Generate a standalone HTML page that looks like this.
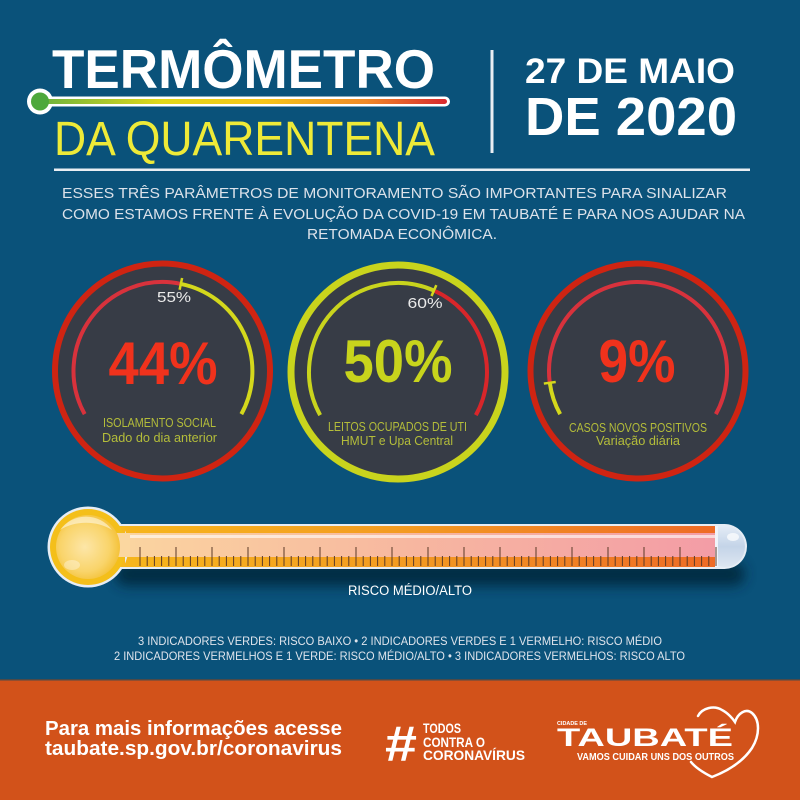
<!DOCTYPE html>
<html><head><meta charset="utf-8"><style>
html,body{margin:0;padding:0;width:800px;height:800px;overflow:hidden;background:#0a527a;}
svg{display:block;}
text{font-family:"Liberation Sans",sans-serif;}
</style></head><body>
<svg width="800" height="800" viewBox="0 0 800 800" xmlns="http://www.w3.org/2000/svg">
<defs>
<linearGradient id="bar" x1="0" x2="1" y1="0" y2="0">
<stop offset="0" stop-color="#6cb33e"/><stop offset="0.3" stop-color="#e2d81a"/><stop offset="0.55" stop-color="#f6c51a"/><stop offset="0.8" stop-color="#f08a28"/><stop offset="1" stop-color="#d8282e"/>
</linearGradient>
<linearGradient id="band" x1="100" x2="720" gradientUnits="userSpaceOnUse">
<stop offset="0" stop-color="#f7b81c"/><stop offset="0.5" stop-color="#f39a22"/><stop offset="1" stop-color="#ee6a26"/>
</linearGradient>
<linearGradient id="body" x1="100" x2="720" gradientUnits="userSpaceOnUse">
<stop offset="0" stop-color="#fbd7a0"/><stop offset="0.5" stop-color="#f7b7a0"/><stop offset="1" stop-color="#f39ca6"/>
</linearGradient>
<linearGradient id="cap" x1="0" x2="0" y1="0" y2="1">
<stop offset="0" stop-color="#e4ecf6"/><stop offset="0.5" stop-color="#c4d4e8"/><stop offset="1" stop-color="#dde6f1"/>
</linearGradient>
<radialGradient id="bulb" cx="0.45" cy="0.5" r="0.55">
<stop offset="0" stop-color="#fde6a8"/><stop offset="0.7" stop-color="#f9d46a"/><stop offset="1" stop-color="#f4c23a"/>
</radialGradient>
<filter id="blur" x="-10%" y="-100%" width="120%" height="300%"><feGaussianBlur stdDeviation="6"/></filter>
</defs>

<rect width="800" height="800" fill="#0a527a"/>

<!-- Title -->
<text x="52" y="88" font-size="55" font-weight="bold" fill="#ffffff" textLength="383" lengthAdjust="spacingAndGlyphs">TERMÔMETRO</text>
<rect x="30" y="96.5" width="420" height="10" rx="5" fill="#ffffff"/>
<circle cx="40" cy="101.5" r="13" fill="#ffffff"/>
<rect x="40" y="99" width="407" height="5" rx="2.5" fill="url(#bar)"/>
<circle cx="40" cy="101.5" r="9" fill="#4ea83c"/>
<text x="54" y="155" font-size="48" fill="#eeea38" textLength="381" lengthAdjust="spacingAndGlyphs">DA QUARENTENA</text>

<rect x="490.5" y="50" width="3" height="103" fill="#e9eef3"/>
<text x="525" y="83" font-size="35" font-weight="bold" fill="#ffffff" textLength="210" lengthAdjust="spacingAndGlyphs">27 DE MAIO</text>
<text x="525" y="135" font-size="54" font-weight="bold" fill="#ffffff" textLength="212" lengthAdjust="spacingAndGlyphs">DE 2020</text>

<rect x="54" y="168.5" width="696" height="2.5" fill="#e9eef3"/>

<g fill="#dce2ea" font-size="15">
<text x="62" y="198" textLength="665" lengthAdjust="spacingAndGlyphs">ESSES TRÊS PARÂMETROS DE MONITORAMENTO SÃO IMPORTANTES PARA SINALIZAR</text>
<text x="62" y="219" textLength="683" lengthAdjust="spacingAndGlyphs">COMO ESTAMOS FRENTE À EVOLUÇÃO DA COVID-19 EM TAUBATÉ E PARA NOS AJUDAR NA</text>
<text x="307" y="239" textLength="190" lengthAdjust="spacingAndGlyphs">RETOMADA ECONÔMICA.</text>
</g>

<!-- Circle 1 -->
<circle cx="162.5" cy="371" r="107.5" fill="#373c46" stroke="#cf2412" stroke-width="6"/>
<path d="M84.66,414.15 A89,89 0 0 1 180.85,283.91" fill="none" stroke="#d8323c" stroke-width="4"/>
<path d="M180.85,283.91 A89,89 0 0 1 241.34,414.15" fill="none" stroke="#d4d81c" stroke-width="4"/>
<line x1="179.6" y1="289.8" x2="182.1" y2="278" stroke="#d4d81c" stroke-width="2.5"/>
<text x="174" y="302" font-size="15" fill="#eaeaea" text-anchor="middle" textLength="34" lengthAdjust="spacingAndGlyphs">55%</text>
<text x="163" y="384" font-size="60" font-weight="bold" fill="#f0321c" text-anchor="middle" textLength="109" lengthAdjust="spacingAndGlyphs">44%</text>
<text x="159.5" y="427" font-size="12.5" fill="#b4bd3a" text-anchor="middle" textLength="113" lengthAdjust="spacingAndGlyphs">ISOLAMENTO SOCIAL</text>
<text x="159.5" y="442" font-size="12.5" fill="#b4bd3a" text-anchor="middle" textLength="115" lengthAdjust="spacingAndGlyphs">Dado do dia anterior</text>

<!-- Circle 2 -->
<circle cx="398" cy="372" r="107" fill="#373c46" stroke="#c9d41d" stroke-width="7"/>
<path d="M320.16,415.15 A89,89 0 0 1 433.91,290.57" fill="none" stroke="#c9d41d" stroke-width="4"/>
<path d="M433.91,290.57 A89,89 0 0 1 475.84,415.15" fill="none" stroke="#d8262a" stroke-width="4"/>
<line x1="431.49" y1="296.06" x2="436.33" y2="285.08" stroke="#d4d81c" stroke-width="2.5"/>
<text x="425" y="308" font-size="15" fill="#eaeaea" text-anchor="middle" textLength="35" lengthAdjust="spacingAndGlyphs">60%</text>
<text x="398" y="382" font-size="60" font-weight="bold" fill="#c8d41c" text-anchor="middle" textLength="109" lengthAdjust="spacingAndGlyphs">50%</text>
<text x="397.5" y="431" font-size="12.5" fill="#b4bd3a" text-anchor="middle" textLength="139" lengthAdjust="spacingAndGlyphs">LEITOS OCUPADOS DE UTI</text>
<text x="397" y="445" font-size="12.5" fill="#b4bd3a" text-anchor="middle" textLength="112" lengthAdjust="spacingAndGlyphs">HMUT e Upa Central</text>

<!-- Circle 3 -->
<circle cx="638" cy="371" r="107.5" fill="#373c46" stroke="#cf2412" stroke-width="6"/>
<path d="M560.16,414.15 A89,89 0 0 1 549.78,382.77" fill="none" stroke="#d4d81c" stroke-width="4"/>
<path d="M549.78,382.77 A89,89 0 1 1 715.84,414.15" fill="none" stroke="#d8323c" stroke-width="4"/>
<line x1="555.73" y1="381.98" x2="543.84" y2="383.57" stroke="#d4d81c" stroke-width="2.5"/>
<text x="637" y="382" font-size="60" font-weight="bold" fill="#f0321c" text-anchor="middle" textLength="77" lengthAdjust="spacingAndGlyphs">9%</text>
<text x="638" y="432" font-size="12.5" fill="#b4bd3a" text-anchor="middle" textLength="138" lengthAdjust="spacingAndGlyphs">CASOS NOVOS POSITIVOS</text>
<text x="638" y="445" font-size="12.5" fill="#b4bd3a" text-anchor="middle" textLength="84" lengthAdjust="spacingAndGlyphs">Variação diária</text>

<!-- Thermometer -->
<rect x="115" y="562" width="630" height="24" rx="12" fill="#02263b" opacity="0.85" filter="url(#blur)"/>
<rect x="100" y="524" width="647" height="45" rx="22.5" fill="#e6edf5"/>
<rect x="705" y="526" width="40" height="41" rx="20.5" fill="url(#cap)"/>
<rect x="100" y="526" width="617" height="41" fill="url(#band)"/>
<rect x="100" y="533" width="617" height="24" fill="url(#body)"/>
<rect x="100" y="535" width="617" height="3" fill="#ffffff" opacity="0.6"/>
<rect x="715" y="526" width="3" height="41" fill="#f0f4fa"/>
<ellipse cx="733" cy="537" rx="6" ry="4" fill="#ffffff" opacity="0.7"/>
<!-- bulb -->
<circle cx="88" cy="547" r="40.5" fill="#e6edf5"/>
<path d="M105,526 L125,526 L125,567 L105,567 Z" fill="#f7b81c"/>
<circle cx="88" cy="547" r="38" fill="#f4bf1a"/>
<rect x="100" y="533" width="30" height="24" fill="#fbd7a0"/>
<circle cx="88" cy="547" r="32" fill="url(#bulb)"/>
<path d="M60,530 A32,32 0 0 1 112,530 A40,30 0 0 0 60,530 Z" fill="#ffffff" opacity="0.5"/>
<ellipse cx="72" cy="565" rx="8" ry="5" fill="#ffffff" opacity="0.35"/>
<!-- ticks -->
<g stroke="#5b3a28" stroke-width="1">
<path d="M140,547V566M176,547V566M212,547V566M248,547V566M284,547V566M320,547V566M356,547V566M392,547V566M428,547V566M464,547V566M500,547V566M536,547V566M572,547V566M608,547V566M644,547V566M680,547V566M716,547V566"/>
<path d="M147.2,556V566M154.4,556V566M161.6,556V566M168.8,556V566M183.2,556V566M190.4,556V566M197.6,556V566M204.8,556V566M219.2,556V566M226.4,556V566M233.6,556V566M240.8,556V566M255.2,556V566M262.4,556V566M269.6,556V566M276.8,556V566M291.2,556V566M298.4,556V566M305.6,556V566M312.8,556V566M327.2,556V566M334.4,556V566M341.6,556V566M348.8,556V566M363.2,556V566M370.4,556V566M377.6,556V566M384.8,556V566M399.2,556V566M406.4,556V566M413.6,556V566M420.8,556V566M435.2,556V566M442.4,556V566M449.6,556V566M456.8,556V566M471.2,556V566M478.4,556V566M485.6,556V566M492.8,556V566M507.2,556V566M514.4,556V566M521.6,556V566M528.8,556V566M543.2,556V566M550.4,556V566M557.6,556V566M564.8,556V566M579.2,556V566M586.4,556V566M593.6,556V566M600.8,556V566M615.2,556V566M622.4,556V566M629.6,556V566M636.8,556V566M651.2,556V566M658.4,556V566M665.6,556V566M672.8,556V566M687.2,556V566M694.4,556V566M701.6,556V566M708.8,556V566"/>
</g>

<text x="348" y="595" font-size="13.5" fill="#ffffff" textLength="124" lengthAdjust="spacingAndGlyphs">RISCO MÉDIO/ALTO</text>

<g fill="#dfe4ec" font-size="12">
<text x="138" y="645" textLength="524" lengthAdjust="spacingAndGlyphs">3 INDICADORES VERDES: RISCO BAIXO  •  2 INDICADORES VERDES E 1 VERMELHO: RISCO MÉDIO</text>
<text x="114" y="660" textLength="571" lengthAdjust="spacingAndGlyphs">2 INDICADORES VERMELHOS E 1 VERDE: RISCO MÉDIO/ALTO  •  3 INDICADORES VERMELHOS: RISCO ALTO</text>
</g>

<!-- Footer -->
<rect x="0" y="680" width="800" height="120" fill="#d2521a"/>
<rect x="0" y="679" width="800" height="1.5" fill="#4d4a48"/>
<text x="45" y="735" font-size="20.5" font-weight="bold" fill="#ffffff" textLength="297" lengthAdjust="spacingAndGlyphs">Para mais informações acesse</text>
<text x="45" y="755" font-size="20.5" font-weight="bold" fill="#ffffff" textLength="297" lengthAdjust="spacingAndGlyphs">taubate.sp.gov.br/coronavirus</text>

<text x="385" y="761" font-size="50" font-weight="bold" fill="#ffffff" textLength="32" lengthAdjust="spacingAndGlyphs">#</text>
<g fill="#ffffff" font-size="14" font-weight="bold">
<text x="423" y="733" textLength="38" lengthAdjust="spacingAndGlyphs">TODOS</text>
<text x="423" y="747" textLength="62" lengthAdjust="spacingAndGlyphs">CONTRA O</text>
<text x="423" y="760" textLength="102" lengthAdjust="spacingAndGlyphs">CORONAVÍRUS</text>
</g>

<text x="557" y="725" font-size="5" font-weight="bold" fill="#ffffff" textLength="30" lengthAdjust="spacingAndGlyphs">CIDADE DE</text>
<text x="557" y="746" font-size="25" font-weight="bold" fill="#ffffff" textLength="176" lengthAdjust="spacingAndGlyphs">TAUBATÉ</text>
<text x="577" y="760" font-size="10" font-weight="bold" fill="#ffffff" textLength="157" lengthAdjust="spacingAndGlyphs">VAMOS CUIDAR UNS DOS OUTROS</text>
<path d="M698,716 C702,708 714,705 722,710 C728,713 733,719 735,722 C738,713 746,708 752,713 C760,720 760,735 752,748 C742,763 725,772 712,777 C702,772 695,767 691,762" fill="none" stroke="#ffffff" stroke-width="2.5" stroke-linecap="round"/>
</svg>
</body></html>
